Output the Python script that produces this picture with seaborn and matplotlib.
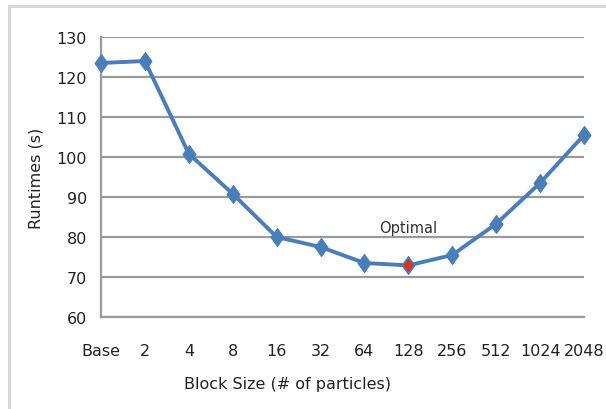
import matplotlib
matplotlib.use("Agg")
import matplotlib.pyplot as plt
from matplotlib.patches import Rectangle
import seaborn as sns
import pandas as pd

# Runtime measurements per block size
block_sizes = ["Base", "2", "4", "8", "16", "32", "64", "128", "256", "512", "1024", "2048"]
runtimes = [123.5, 124.0, 100.8, 90.8, 80.0, 77.5, 73.5, 72.9, 75.5, 83.3, 93.5, 105.5]
optimal_label = "128"
y_ticks = [60, 70, 80, 90, 100, 110, 120, 130]

df = pd.DataFrame({"pos": range(len(block_sizes)), "block": block_sizes, "runtime": runtimes})
opt = df[df["block"] == optimal_label]

sns.set_theme(style="white")
plt.rcParams["font.family"] = ["DejaVu Sans Condensed", "Liberation Sans Narrow", "DejaVu Sans"]

# tall, narrow diamond used for the data markers
tall_diamond = [(0, 1), (0.72, 0), (0, -1), (-0.72, 0), (0, 1)]

fig = plt.figure(figsize=(6.06, 4.10), dpi=100)
fig.patch.set_facecolor("white")
fig.add_artist(Rectangle((9 / 606, -0.01), 1.0, 1 - 7 / 410 + 0.01, transform=fig.transFigure,
                         fill=False, edgecolor="#d4d4d4", linewidth=2.0))

ax = fig.add_axes([101 / 606, 1 - 318 / 410, (584 - 101) / 606, (318 - 38) / 410])

line_color = "#4a7ebb"
sns.lineplot(data=df, x="pos", y="runtime", ax=ax, color=line_color, linewidth=2.8,
             marker=tall_diamond, markersize=13, markeredgecolor=line_color, zorder=3,
             clip_on=False)
sns.scatterplot(data=opt, x="pos", y="runtime", ax=ax, color="#e0301e", marker=tall_diamond,
                s=75, edgecolor="#e0301e", zorder=4)

ax.annotate("Optimal", (opt["pos"].iloc[0], opt["runtime"].iloc[0]), xytext=(0, 22),
            textcoords="offset points", ha="center", va="bottom", fontsize=10.5, color="#333333")

ax.set_xlim(0, len(block_sizes) - 1)
ax.set_ylim(y_ticks[0], y_ticks[-1])
ax.set_xticks(range(len(block_sizes)))
ax.set_xticklabels(block_sizes)
ax.set_yticks(y_ticks)
ax.yaxis.grid(True, color="#9a9a9a", linewidth=1.6)
ax.set_axisbelow(True)

for side in ["top", "right"]:
    ax.spines[side].set_visible(False)
for side in ["left", "bottom"]:
    ax.spines[side].set_color("#9a9a9a")
    ax.spines[side].set_linewidth(1.6)

ax.tick_params(axis="both", which="major", labelsize=11.5, colors="#9a9a9a",
               labelcolor="#222222", length=5, width=1.4, direction="out")
ax.tick_params(axis="x", pad=14)
ax.tick_params(axis="y", pad=5)

ax.set_xlabel("")
ax.set_ylabel("Runtimes (s)", fontsize=11.5, color="#222222", labelpad=9)
fig.text(287 / 606, 1 - 385 / 410, "Block Size (# of particles)", ha="center", va="center",
         fontsize=11.5, color="#222222")

fig.savefig("out.png", dpi=100, facecolor="white")
